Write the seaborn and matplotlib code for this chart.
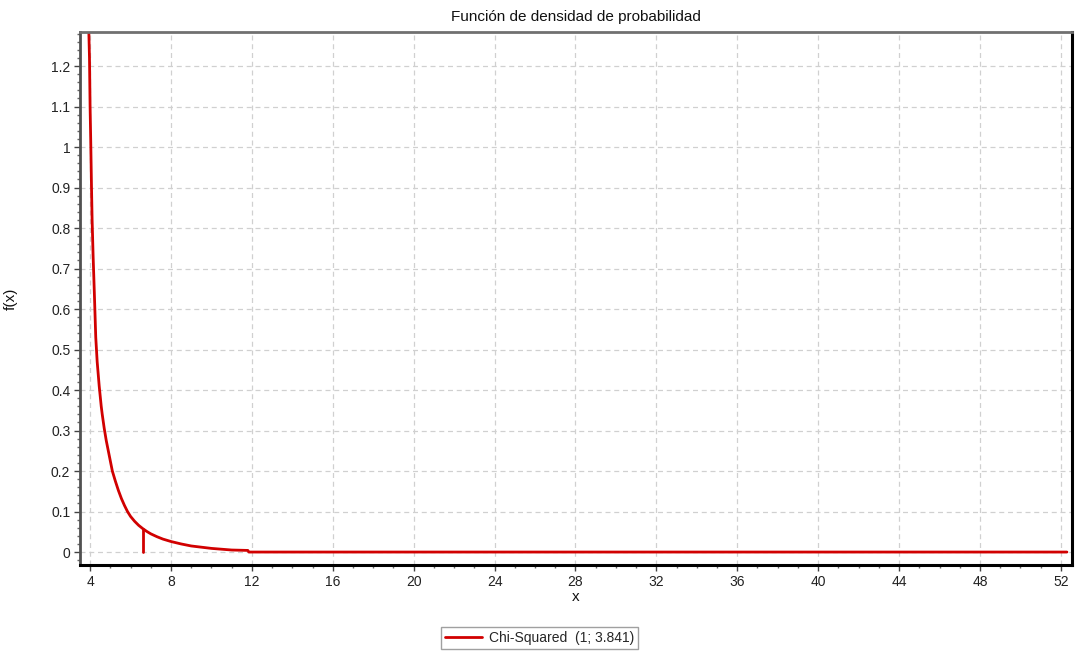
import numpy as np
import pandas as pd
import matplotlib
matplotlib.use('Agg')
import matplotlib.pyplot as plt
from matplotlib.ticker import MultipleLocator
import seaborn as sns

# valores (chi-cuadrado, gl=1, desplazada a 3.841)
x_vals = [3.90, 3.94, 3.97, 4.00, 4.03, 4.07, 4.10, 4.15, 4.21, 4.28, 4.35, 4.45,
          4.55, 4.60, 4.70, 4.80, 4.90, 5.00, 5.10, 5.25, 5.40, 5.55, 5.70, 5.85,
          6.00, 6.20, 6.40, 6.60, 6.80, 7.00, 7.30, 7.60, 8.00, 8.50, 9.00, 9.50,
          10.0, 10.5, 11.0, 11.8, 11.85, 52.3]
fx_vals = [1.45, 1.28, 1.22, 1.10, 1.02, 0.90, 0.82, 0.73, 0.64, 0.53, 0.47, 0.41,
           0.36, 0.34, 0.305, 0.275, 0.25, 0.225, 0.20, 0.175, 0.152, 0.132, 0.115, 0.100,
           0.088, 0.076, 0.066, 0.058, 0.051, 0.045, 0.038, 0.032, 0.026, 0.020, 0.015, 0.012,
           0.009, 0.007, 0.005, 0.004, 0.0, 0.0]
marker_x = [6.63, 6.63]
marker_y = [0.0, 0.058]
serie = 'Chi-Squared  (1; 3.841)'

df = pd.DataFrame({'x': x_vals, 'f(x)': fx_vals, 'serie': serie})

sns.set_style('white')
plt.rcParams['font.family'] = ['Liberation Sans', 'DejaVu Sans']

fig = plt.figure(figsize=(10.75, 6.51), dpi=100)
ax = fig.add_axes([0.0744, 0.1321, 0.9228, 0.8187])

sns.lineplot(data=df, x='x', y='f(x)', hue='serie', palette=['#d10000'],
             linewidth=2, ax=ax, legend=False, estimator=None, sort=False)
ax.plot(marker_x, marker_y, color='#d10000', linewidth=2)

ax.set_xlim(3.5, 52.55)
ax.set_ylim(-0.032, 1.284)
ax.xaxis.set_major_locator(MultipleLocator(4))
ax.xaxis.set_minor_locator(MultipleLocator(1))
ax.yaxis.set_major_locator(MultipleLocator(0.1))
ax.yaxis.set_minor_locator(MultipleLocator(0.02))
ax.set_yticks(np.arange(0, 1.21, 0.1))
ax.set_yticklabels(['0', '0.1', '0.2', '0.3', '0.4', '0.5', '0.6', '0.7', '0.8',
                    '0.9', '1', '1.1', '1.2'])
ax.tick_params(axis='both', which='major', direction='out', length=4, width=1,
               color='#444444', labelsize=10, labelcolor='#222222', pad=3,
               left=True, bottom=True)
ax.tick_params(axis='both', which='minor', direction='out', length=2, width=1,
               color='#666666', left=True, bottom=True)

ax.grid(True, which='major', linestyle=(0, (4, 3)), color='#d0d0d0', linewidth=0.9)

ax.spines['top'].set_color('#707070')
ax.spines['top'].set_linewidth(2)
ax.spines['left'].set_color('#505050')
ax.spines['left'].set_linewidth(2)
ax.spines['bottom'].set_color('#000000')
ax.spines['bottom'].set_linewidth(2.2)
ax.spines['right'].set_color('#000000')
ax.spines['right'].set_linewidth(2.2)

ax.set_title('Función de densidad de probabilidad', fontsize=11, color='#111111', pad=8)
ax.set_xlabel('x', fontsize=11, color='#111111', labelpad=1)
ax.set_ylabel('f(x)', fontsize=11, color='#111111', labelpad=24)

handle = plt.Line2D([], [], color='#d10000', linewidth=2)
fig.legend([handle], [serie], loc='center', bbox_to_anchor=(0.502, 0.02),
           frameon=True, fancybox=False, edgecolor='#888888', fontsize=10,
           handlelength=2.6, handletextpad=0.5, borderpad=0.3)

fig.savefig('out.png', dpi=100)
